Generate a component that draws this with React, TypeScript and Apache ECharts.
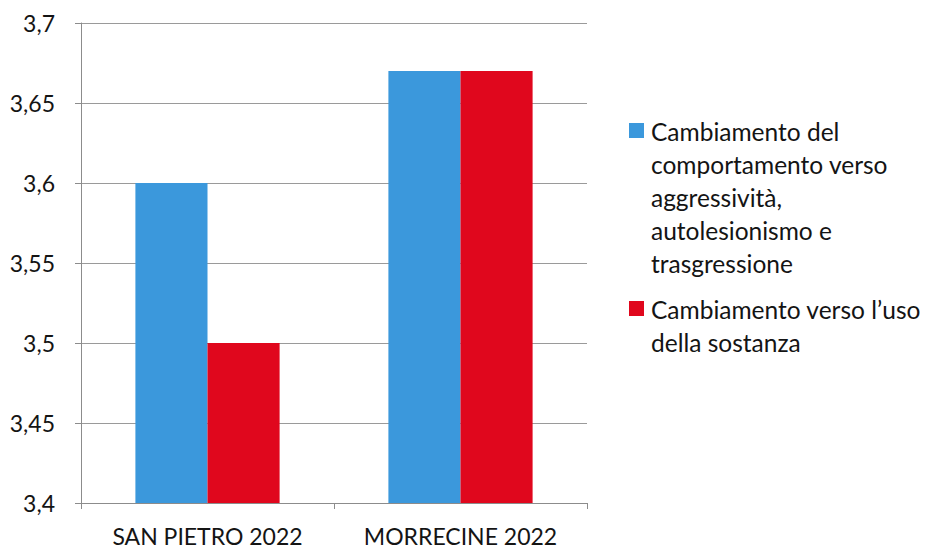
import React, { useEffect, useRef } from "react";
import * as echarts from "echarts";

const categories = ["SAN PIETRO 2022", "MORRECINE 2022"];
const seriesNames = [
  "Cambiamento del comportamento verso aggressività, autolesionismo e trasgressione",
  "Cambiamento verso l’uso della sostanza",
];
const legendLines = [
  ["Cambiamento del", "comportamento verso", "aggressività,", "autolesionismo e", "trasgressione"],
  ["Cambiamento verso l’uso", "della sostanza"],
];
const comportamento = [3.6, 3.67];
const sostanza = [3.5, 3.67];
const colors = ["#3b98dc", "#e0071d"];
const yMin = 3.4;
const yMax = 3.7;
const yStep = 0.05;

const FONT = "Lato, 'Open Sans', sans-serif";

export default function App() {
  const ref = useRef<HTMLDivElement>(null);
  useEffect(() => {
    if (!ref.current) return;
    const chart = echarts.init(ref.current, undefined, { renderer: "svg" });
    const lineH = 33;
    const legendGraphics: any[] = [];
    const firstCenters = [131, 309];
    legendLines.forEach((lines, i) => {
      legendGraphics.push({
        type: "rect",
        left: 629,
        top: firstCenters[i] - 8,
        shape: { width: 15, height: 15 },
        style: { fill: colors[i] },
      });
      legendGraphics.push({
        type: "text",
        left: 651,
        top: firstCenters[i] - lineH / 2,
        style: {
          text: lines.join("\n"),
          font: `24.5px ${FONT}`,
          lineHeight: lineH,
          fill: "#141414",
        },
      });
    });
    chart.setOption({
      animation: false,
      backgroundColor: "#ffffff",
      textStyle: { fontFamily: FONT },
      grid: { left: 81, right: 341, top: 23, bottom: 46, containLabel: false },
      xAxis: {
        type: "category",
        data: categories,
        axisLine: { show: true, lineStyle: { color: "#8c8c8c", width: 1 } },
        axisTick: { show: true, length: 6, lineStyle: { color: "#8c8c8c" } },
        axisLabel: {
          color: "#141414",
          fontSize: 23,
          lineHeight: 24,
          margin: 21,
          fontFamily: FONT,
        },
      },
      yAxis: {
        type: "value",
        min: yMin,
        max: yMax,
        interval: yStep,
        axisLine: { show: true, lineStyle: { color: "#8c8c8c", width: 1 } },
        axisTick: { show: true, length: 6, lineStyle: { color: "#8c8c8c" } },
        splitLine: { show: true, lineStyle: { color: "#9a9a9a", width: 1 } },
        axisLabel: {
          color: "#141414",
          fontSize: 23,
          margin: 26,
          fontFamily: FONT,
          formatter: (v: number) => String(parseFloat(v.toFixed(2))).replace(".", ","),
        },
      },
      series: [
        {
          name: seriesNames[0],
          type: "bar",
          data: comportamento,
          itemStyle: { color: colors[0] },
          barGap: "0%",
          barCategoryGap: "43%",
        },
        {
          name: seriesNames[1],
          type: "bar",
          data: sostanza,
          itemStyle: { color: colors[1] },
          barGap: "0%",
          barCategoryGap: "43%",
        },
      ],
      graphic: legendGraphics,
    });
    return () => chart.dispose();
  }, []);
  return (
    <div
      ref={ref}
      style={{ position: "fixed", left: 0, top: 0, width: 928, height: 549, background: "#fff" }}
    />
  );
}
